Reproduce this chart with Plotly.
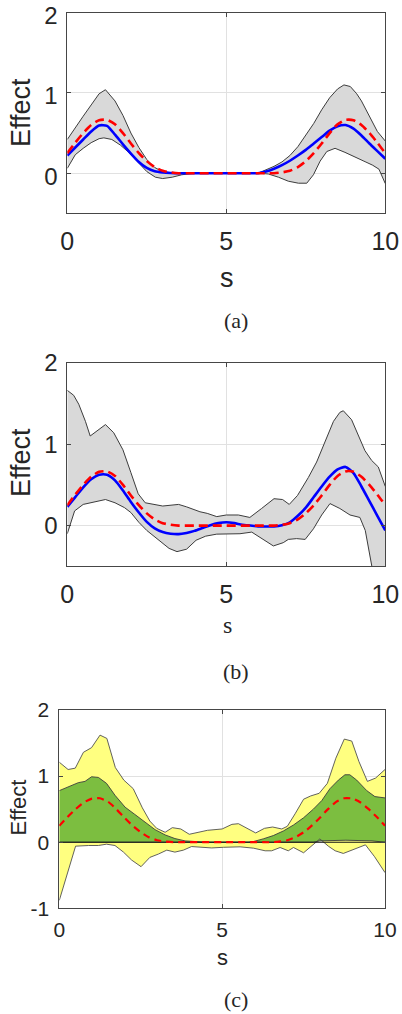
import plotly.graph_objects as go

# ---------------- data ----------------
s_grid = [0, 0.25, 0.5, 0.75, 1, 1.25, 1.5, 1.75, 2, 2.25, 2.5, 2.75, 3, 3.25, 3.5,
          3.75, 4, 4.25, 4.5, 4.75, 5, 5.25, 5.5, 5.75, 6, 6.25, 6.5, 6.75, 7, 7.25,
          7.5, 7.75, 8, 8.25, 8.5, 8.75, 9, 9.25, 9.5, 9.75, 10]

true_effect = [0.25, 0.38, 0.50, 0.60, 0.66, 0.665, 0.61, 0.50, 0.37, 0.25, 0.15, 0.075,
               0.03, 0.01, 0, 0, 0, 0, 0, 0, 0, 0, 0, 0, 0, 0, 0, 0.01, 0.03, 0.075,
               0.15, 0.25, 0.37, 0.50, 0.61, 0.665, 0.66, 0.60, 0.50, 0.38, 0.25]

est_a = [0.22, 0.32, 0.42, 0.52, 0.595, 0.59, 0.48, 0.36, 0.245, 0.14, 0.065, 0.025,
         0.01, 0.003, 0, 0, 0, 0, 0, 0, 0, 0, 0, 0, 0, 0.02, 0.055, 0.1, 0.155, 0.22,
         0.29, 0.37, 0.45, 0.53, 0.585, 0.6, 0.555, 0.47, 0.37, 0.275, 0.18]

est_b = [0.23, 0.35, 0.47, 0.57, 0.625, 0.625, 0.555, 0.43, 0.29, 0.16, 0.045, -0.035,
         -0.08, -0.1, -0.105, -0.09, -0.065, -0.03, 0.005, 0.03, 0.04, 0.03, 0.01, 0.0,
         -0.01, -0.012, -0.01, 0.005, 0.04, 0.12, 0.22, 0.35, 0.48, 0.6, 0.69, 0.72,
         0.645, 0.48, 0.3, 0.12, -0.06]

# credible band, panel (a)
upper_a_s = [0, 0.25, 0.5, 0.75, 1.0, 1.2, 1.5, 1.75, 2.0, 2.25, 2.5, 2.75, 3.0, 3.25, 3.5,
             6.0, 6.25, 6.5, 6.75, 7.0, 7.25, 7.5, 7.75, 8.0, 8.25, 8.5, 8.7, 8.9, 9.1,
             9.25, 9.5, 9.75, 10]
upper_a = [0.42, 0.57, 0.71, 0.85, 0.99, 1.04, 0.90, 0.72, 0.50, 0.32, 0.17, 0.07, 0.02,
           0.005, 0, 0, 0.04, 0.085, 0.14, 0.22, 0.33, 0.47, 0.62, 0.79, 0.94, 1.05, 1.10,
           1.08, 0.99, 0.90, 0.71, 0.52, 0.40]
lower_a_s = [0, 0.25, 0.5, 0.75, 1.0, 1.15, 1.4, 1.67, 1.93, 2.24, 2.5, 2.77, 3.0, 3.3, 3.6,
             3.9, 4.2, 6.0, 6.32, 6.64, 6.95, 7.27, 7.53, 7.74, 7.95, 8.16, 8.42, 8.73, 9.05,
             9.36, 9.6, 9.8, 10]
lower_a = [0.06, 0.23, 0.31, 0.38, 0.43, 0.44, 0.42, 0.35, 0.26, 0.125, 0.02, -0.05, -0.067,
           -0.05, -0.02, -0.005, 0, 0, -0.01, -0.05, -0.1, -0.125, -0.125, -0.02, 0.15, 0.27,
           0.31, 0.26, 0.2, 0.15, 0.1, 0.05, -0.13]

# credible band, panel (b)
upper_b_s = [0, 0.2, 0.36, 0.57, 0.72, 0.95, 1.2, 1.46, 1.75, 2.0, 2.23, 2.45, 2.75, 3.0,
             3.5, 3.75, 4.17, 4.4, 4.7, 5.0, 5.38, 5.74, 6.11, 6.5, 6.77, 6.98, 7.24, 7.58,
             7.84, 8.1, 8.37, 8.57, 8.68, 8.94, 9.15, 9.36, 9.57, 9.78, 10]
upper_b = [1.66, 1.6, 1.49, 1.28, 1.1, 1.17, 1.24, 1.14, 0.93, 0.65, 0.39, 0.28, 0.26, 0.24,
           0.26, 0.23, 0.17, 0.15, 0.11, 0.13, 0.13, 0.1, 0.21, 0.33, 0.32, 0.26, 0.37, 0.59,
           0.78, 1.02, 1.28, 1.39, 1.41, 1.3, 1.12, 0.92, 0.8, 0.72, 0.48]
lower_b_s = [0, 0.23, 0.5, 0.88, 1.2, 1.5, 1.8, 2.0, 2.25, 2.5, 2.85, 3.2, 3.45, 3.75, 4.05,
             4.35, 4.7, 5.0, 5.43, 5.8, 6.11, 6.48, 6.79, 6.95, 7.21, 7.48, 7.74, 8.0, 8.26,
             8.57, 8.89, 9.2, 9.37, 9.47, 9.57, 9.8, 10]
lower_b = [-0.1, 0.18, 0.26, 0.29, 0.32, 0.28, 0.22, 0.16, 0.04, -0.06, -0.17, -0.28, -0.32,
           -0.29, -0.18, -0.13, -0.105, -0.1, -0.1, -0.08, -0.16, -0.25, -0.21, -0.17, -0.16,
           -0.17, -0.04, 0.13, 0.27, 0.21, 0.13, 0.1, -0.06, -0.26, -0.5, -1.0, -1.4]

# panel (c): outer (yellow) and inner (green) bands
yel_up_s = [0, 0.27, 0.49, 0.74, 0.99, 1.25, 1.46, 1.72, 1.98, 2.27, 2.55, 2.78, 2.99, 3.25,
            3.47, 3.73, 3.99, 4.27, 4.55, 5.0, 5.3, 5.5, 5.73, 6.03, 6.3, 6.55, 6.83, 7.0,
            7.24, 7.5, 7.72, 7.98, 8.23, 8.49, 8.75, 8.98, 9.2, 9.46, 9.71, 10]
yel_up = [1.21, 1.1, 1.12, 1.36, 1.43, 1.62, 1.57, 1.13, 0.94, 0.81, 0.52, 0.32, 0.21, 0.15,
          0.22, 0.2, 0.12, 0.15, 0.18, 0.2, 0.27, 0.28, 0.22, 0.14, 0.21, 0.23, 0.2, 0.24,
          0.43, 0.65, 0.7, 0.74, 0.89, 1.27, 1.56, 1.53, 1.22, 0.92, 0.97, 1.1]
yel_lo_s = [0, 0.5, 0.9, 1.2, 1.45, 1.71, 1.97, 2.22, 2.51, 2.78, 3.04, 3.3, 3.55, 3.81, 4.06,
            4.37, 4.68, 5.04, 5.55, 5.96, 6.32, 6.52, 6.78, 7.03, 7.19, 7.5, 7.75, 8.0, 8.26,
            8.47, 8.72, 9.03, 9.4, 9.68, 9.84, 10]
yel_lo = [-0.88, -0.06, -0.05, -0.05, -0.03, -0.05, -0.15, -0.27, -0.37, -0.23, -0.18, -0.12,
          -0.15, -0.12, -0.066, -0.077, -0.087, -0.077, -0.07, -0.09, -0.13, -0.13, -0.08,
          -0.13, -0.08, -0.16, -0.05, 0.05, -0.06, -0.13, -0.17, -0.11, -0.04, -0.22, -0.34,
          -0.46]
grn_up_s = [0, 0.28, 0.58, 0.79, 0.99, 1.2, 1.45, 1.71, 2.02, 2.32, 2.63, 2.94, 3.25, 3.55,
            3.86, 4.17, 4.5, 5.8, 5.96, 6.26, 6.57, 6.88, 7.19, 7.5, 7.8, 8.06, 8.31, 8.57,
            8.77, 8.92, 9.13, 9.44, 9.69, 10]
grn_up = [0.78, 0.84, 0.9, 0.92, 0.99, 0.98, 0.89, 0.71, 0.53, 0.42, 0.3, 0.19, 0.11, 0.055,
          0.02, 0.005, 0, 0, 0.01, 0.05, 0.1, 0.17, 0.26, 0.37, 0.5, 0.63, 0.81, 0.94, 1.02,
          1.02, 0.94, 0.78, 0.69, 0.67]
grn_lo_s = [0, 7.8, 8.0, 8.8, 9.6, 10]
grn_lo = [0, 0, 0.02, 0.03, 0.02, 0.0]
zero_s = [0, 10]
zero_v = [0, 0]

x_ticks = [0, 5, 10]
y_ticks_ab = [0, 1, 2]
y_ticks_c = [-1, 0, 1, 2]

# ---------------- styles ----------------
W, H = 402, 1014
SANS = "Liberation Sans, Arial, sans-serif"
SERIF = "Liberation Serif, Times New Roman, serif"
TXT = "rgb(38,38,38)"
FRAME = "rgb(70,70,70)"
GRID = "rgb(225,225,225)"
BAND_GRAY = "rgb(217,217,217)"
EDGE = "rgb(60,60,60)"
YELLOW = "rgb(255,255,128)"
GREEN = "rgb(124,190,64)"


def band(xs_up, up, xs_lo, lo, color, xa, ya):
    """Closed polygon between an upper and a lower curve."""
    return go.Scatter(x=list(xs_up) + list(xs_lo)[::-1], y=list(up) + list(lo)[::-1],
                      mode="lines", fill="toself", fillcolor=color,
                      line=dict(width=0), hoverinfo="skip", showlegend=False,
                      xaxis=xa, yaxis=ya)


def edge(xs, ys, xa, ya, color=EDGE, width=1):
    return go.Scatter(x=xs, y=ys, mode="lines", line=dict(color=color, width=width),
                      showlegend=False, xaxis=xa, yaxis=ya)


def curve(xs, ys, xa, ya, color, width, dash="solid"):
    return go.Scatter(x=xs, y=ys, mode="lines",
                      line=dict(color=color, width=width, dash=dash, shape="spline",
                                smoothing=0.6),
                      showlegend=False, xaxis=xa, yaxis=ya)


traces = []
# (a)
traces += [band(upper_a_s, upper_a, lower_a_s, lower_a, BAND_GRAY, "x", "y"),
           edge(upper_a_s, upper_a, "x", "y"), edge(lower_a_s, lower_a, "x", "y"),
           curve(s_grid, est_a, "x", "y", "rgb(0,0,255)", 2.6),
           curve(s_grid, true_effect, "x", "y", "rgb(255,0,0)", 2.6, "9px,5px")]
# (b)
traces += [band(upper_b_s, upper_b, lower_b_s, lower_b, BAND_GRAY, "x2", "y2"),
           edge(upper_b_s, upper_b, "x2", "y2"), edge(lower_b_s, lower_b, "x2", "y2"),
           curve(s_grid, est_b, "x2", "y2", "rgb(0,0,255)", 2.6),
           curve(s_grid, true_effect, "x2", "y2", "rgb(255,0,0)", 2.6, "9px,5px")]
# (c)
traces += [band(yel_up_s, yel_up, yel_lo_s, yel_lo, YELLOW, "x3", "y3"),
           band(grn_up_s, grn_up, grn_lo_s, grn_lo, GREEN, "x3", "y3"),
           edge(yel_up_s, yel_up, "x3", "y3", "rgb(80,80,80)", 0.9),
           edge(yel_lo_s, yel_lo, "x3", "y3", "rgb(80,80,80)", 0.9),
           edge(grn_up_s, grn_up, "x3", "y3", "rgb(60,60,60)", 0.9),
           edge(grn_lo_s, grn_lo, "x3", "y3", "rgb(60,60,60)", 0.9),
           edge(zero_s, zero_v, "x3", "y3", "rgb(20,20,20)", 1.1),
           curve(s_grid, true_effect, "x3", "y3", "rgb(255,0,0)", 2.2, "7px,5px")]

fig = go.Figure(data=traces)


def px_x(a, b):
    return [a / W, b / W]


def px_y(top, bottom):
    return [1 - bottom / H, 1 - top / H]


def common(size, standoff, shift=0):
    return dict(automargin=False, showgrid=True, gridcolor=GRID, gridwidth=1,
                zeroline=False, showline=True, linecolor=FRAME, linewidth=1,
                mirror="allticks", ticks="inside", ticklen=4, tickcolor=FRAME,
                tickfont=dict(family=SANS, size=size, color=TXT),
                ticklabelstandoff=standoff, ticklabelshift=shift,
                ticklabeloverflow="allow", fixedrange=True)


def xax(domain, anchor, size, standoff):
    return dict(domain=domain, anchor=anchor, range=[0, 10], tickvals=x_ticks,
                ticktext=[str(v) for v in x_ticks], **common(size, standoff))


def yax(domain, anchor, rng, ticks, size, standoff, shift=0):
    return dict(domain=domain, anchor=anchor, range=rng, tickvals=ticks,
                ticktext=[str(v) for v in ticks], **common(size, standoff, shift))


def label(text, x, y, size, family=SANS, angle=0):
    return dict(text=text, x=x / W, y=1 - y / H, xref="paper", yref="paper",
                xanchor="center", yanchor="middle", showarrow=False, textangle=angle,
                font=dict(family=family, size=size, color=TXT))


fig.update_layout(
    width=W, height=H, margin=dict(l=0, r=0, t=0, b=0, autoexpand=False),
    paper_bgcolor="white", plot_bgcolor="white", showlegend=False,
    xaxis=xax(px_x(67.3, 385.3), "y", 25, 6),
    yaxis=yax(px_y(12.7, 213.3), "x", [-0.5, 2], y_ticks_ab, 24, 4, 3),
    xaxis2=xax(px_x(67.3, 385.3), "y2", 25, 6),
    yaxis2=yax(px_y(362.7, 566.3), "x2", [-0.5, 2], y_ticks_ab, 24, 4),
    xaxis3=xax(px_x(59.3, 385.0), "y3", 21, 2),
    yaxis3=yax(px_y(710, 908.3), "x3", [-1, 2], y_ticks_c, 21, 5),
    annotations=[
        label("Effect", 21, 113, 27, angle=-90),
        label("s", 226.5, 278, 27),
        label("(a)", 236, 321, 22, SERIF),
        label("Effect", 21, 463, 27, angle=-90),
        label("s", 227, 625, 24, SERIF),
        label("(b)", 236, 671, 22, SERIF),
        label("Effect", 17.5, 808, 22, angle=-90),
        label("s", 222, 957, 22),
        label("(c)", 236, 999, 22, SERIF),
    ],
)

fig.write_html("out.html")
